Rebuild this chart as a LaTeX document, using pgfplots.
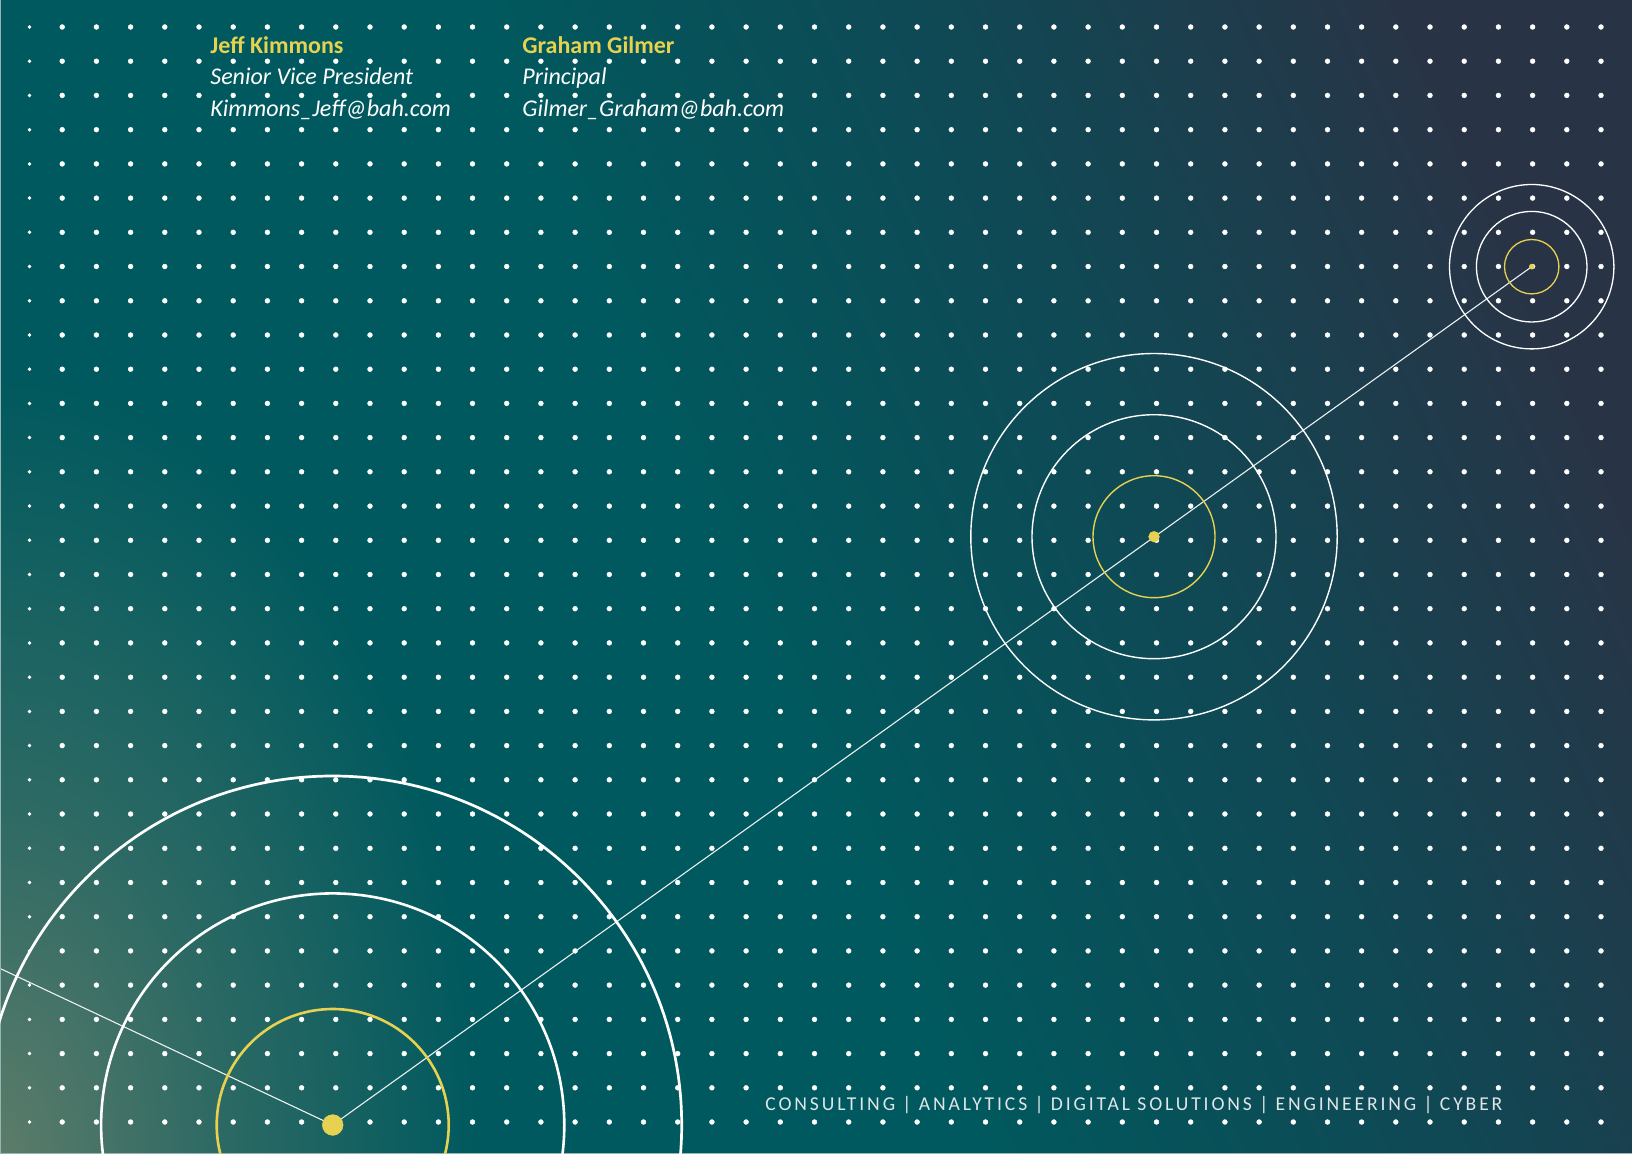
\documentclass[border=0pt]{standalone}
\usepackage{pgfplots}
\pgfplotsset{compat=1.18}
\usepackage{pgfplotstable}
\usepackage{fontspec}
\setmainfont{Carlito}
\definecolor{tealc}{RGB}{0,89,94}
\definecolor{midc}{RGB}{16,72,84}
\definecolor{navyc}{RGB}{40,52,70}
\definecolor{glowc}{RGB}{92,124,106}
\definecolor{glowm}{RGB}{46,106,100}
\definecolor{yellowc}{RGB}{230,210,80}
\definecolor{linec}{RGB}{235,240,240}
\definecolor{footc}{RGB}{222,230,233}
\definecolor{edgec}{RGB}{150,180,180}
\pgfdeclarehorizontalshading{bgsh}{100bp}{color(0bp)=(tealc); color(47bp)=(tealc); color(62bp)=(midc); color(76bp)=(navyc); color(100bp)=(navyc)}
\pgfdeclareradialshading{glowsh}{\pgfpoint{0bp}{0bp}}{color(0bp)=(glowc); color(11bp)=(glowm); color(25bp)=(tealc); color(50bp)=(tealc)}

\pgfplotstableread{
y
27.0
61.2
95.4
129.7
163.9
198.1
232.3
266.5
300.8
335.0
369.2
403.4
437.6
471.8
506.1
540.3
574.5
608.7
642.9
677.2
711.4
745.6
779.8
814.0
848.3
882.5
916.7
950.9
985.1
1019.4
1053.6
1087.8
1122.0
}\rowy

\begin{document}
\begin{tikzpicture}
\begin{axis}[
  scale only axis, width=816pt, height=577pt,
  xmin=0, xmax=1632, ymin=0, ymax=1154, y dir=reverse,
  hide axis, clip=true, clip bounding box=upper bound,
  dot/.style={white, only marks, mark=*, mark size=1.22pt, mark options={draw=white, fill=white, line width=0.2pt}},
]
% background
\shade[shading=bgsh, shading angle=24] (axis cs:0,0) rectangle (axis cs:1632,1154);
\shade[shading=glowsh] (axis cs:-480,374) rectangle (axis cs:480,1934);
% dot grid
\addplot[white, only marks, mark=*, mark size=0.8pt, mark options={draw=white, fill=white, line width=0.2pt}] table[x expr=29.5, y=y] {\rowy};
\pgfplotsinvokeforeach{62.2,96.4,130.6,164.8,199.0,233.2,267.4,301.6,335.8,370.0,404.2,438.4,472.5,506.7,540.9,575.1,609.3,643.5,677.7,711.9,746.1,780.3,814.5,848.7,882.9,917.1,951.3,985.5,1019.7,1053.9,1088.1,1122.3,1156.5,1190.7,1224.9,1259.1,1293.3,1327.5,1361.6,1395.8,1430.0,1464.2,1498.4,1532.6,1566.8,1601.0}{
  \addplot[dot] table[x expr=#1, y=y] {\rowy};
}
% connecting line
\addplot[linec, line width=0.55pt] coordinates {(-20,959) (332.7,1125) (1531.7,266.7)};
% circles around centre 1
\addplot[white, only marks, mark=o, mark size=174.5pt, mark options={draw=white, line width=1.35pt}] coordinates {(332.7,1125)};
\addplot[white, only marks, mark=o, mark size=115.8pt, mark options={draw=white, line width=1.3pt}] coordinates {(332.7,1125)};
\addplot[yellowc, only marks, mark=o, mark size=58pt, mark options={draw=yellowc, line width=1.3pt}] coordinates {(332.7,1125)};
% circles around centre 2
\addplot[white, only marks, mark=o, mark size=91.6pt, mark options={draw=white, line width=0.7pt}] coordinates {(1154,536.7)};
\addplot[white, only marks, mark=o, mark size=61pt, mark options={draw=white, line width=0.7pt}] coordinates {(1154,536.7)};
\addplot[yellowc, only marks, mark=o, mark size=30.5pt, mark options={draw=yellowc, line width=0.7pt}] coordinates {(1154,536.7)};
% circles around centre 3
\addplot[white, only marks, mark=o, mark size=41.1pt, mark options={draw=white, line width=0.65pt}] coordinates {(1531.7,266.7)};
\addplot[white, only marks, mark=o, mark size=27.65pt, mark options={draw=white, line width=0.65pt}] coordinates {(1531.7,266.7)};
\addplot[yellowc, only marks, mark=o, mark size=13.6pt, mark options={draw=yellowc, line width=0.65pt}] coordinates {(1531.7,266.7)};
% centre dots
\addplot[yellowc, only marks, mark=*, mark size=5.2pt, mark options={draw=yellowc, fill=yellowc, line width=0.2pt}] coordinates {(332.7,1125)};
\addplot[yellowc, only marks, mark=*, mark size=2.7pt, mark options={draw=yellowc, fill=yellowc, line width=0.2pt}] coordinates {(1154,536.7)};
\addplot[yellowc, only marks, mark=*, mark size=1.25pt, mark options={draw=yellowc, fill=yellowc, line width=0.2pt}] coordinates {(1531.7,266.7)};
% edges
\addplot[edgec, line width=0.6pt] coordinates {(0.6,0) (0.6,1153.4) (1632,1153.4)};
% text
\node[anchor=base west, inner sep=0pt, text=yellowc, font=\fontsize{12}{14}\selectfont\bfseries] at (axis cs:210,53.5) {Jeff Kimmons};
\node[anchor=base west, inner sep=0pt, text=white, font=\fontsize{12}{14}\selectfont\itshape] at (axis cs:210,85) {Senior Vice President};
\node[anchor=base west, inner sep=0pt, text=white, font=\fontsize{12}{14}\selectfont\itshape] at (axis cs:210,117) {Kimmons\_Jeff@bah.com};
\node[anchor=base west, inner sep=0pt, text=yellowc, font=\fontsize{12}{14}\selectfont\bfseries] at (axis cs:522,53.5) {Graham Gilmer};
\node[anchor=base west, inner sep=0pt, text=white, font=\fontsize{12}{14}\selectfont\itshape] at (axis cs:522,85) {Principal};
\node[anchor=base west, inner sep=0pt, text=white, font=\fontsize{12}{14}\selectfont\itshape] at (axis cs:522,117) {Gilmer\_Graham@bah.com};
\node[anchor=base west, inner sep=0pt, text=footc, font=\fontsize{9.8}{11}\selectfont\addfontfeatures{LetterSpace=14.7}] at (axis cs:765,1110) {CONSULTING | ANALYTICS | DIGITAL SOLUTIONS | ENGINEERING | CYBER};
\end{axis}
\pgfresetboundingbox
\useasboundingbox (current axis.south west) rectangle (current axis.north east);
\end{tikzpicture}
\end{document}
